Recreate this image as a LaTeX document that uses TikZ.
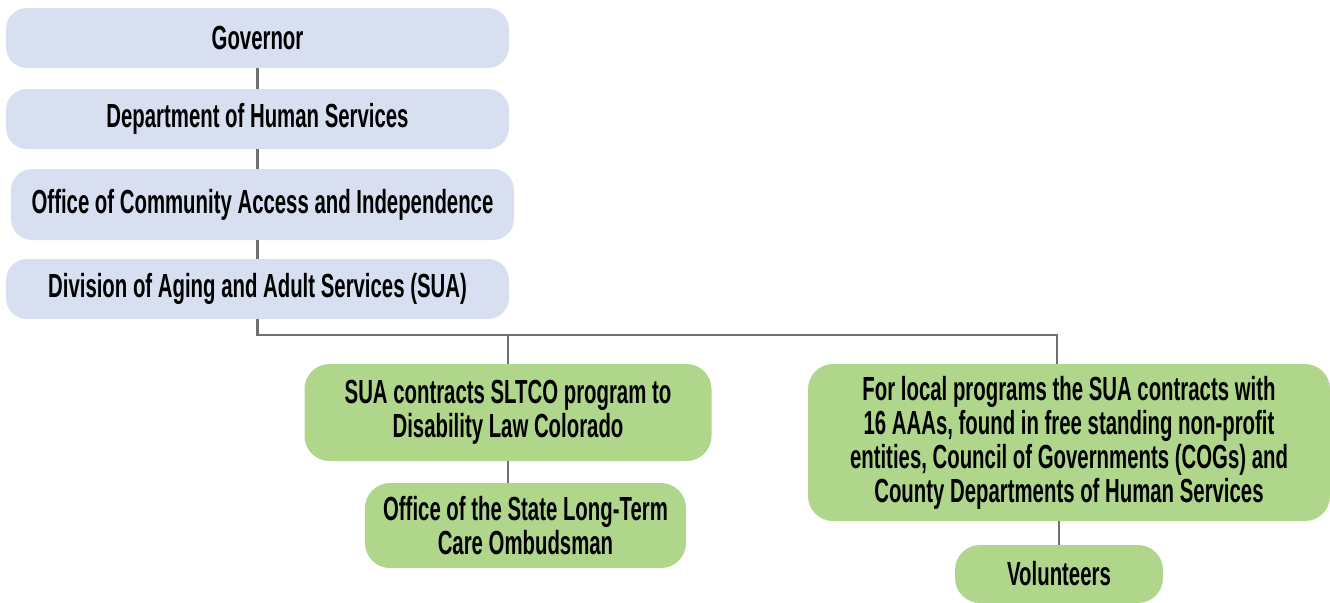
\documentclass[tikz,border=0pt]{standalone}
\usepackage{fontspec}
\newfontfamily\orgfont{Liberation Sans}[FakeStretch=0.61]
\usepackage{tikz}
\usetikzlibrary{positioning}
\definecolor{govblue}{HTML}{D7DFF1}
\definecolor{localgreen}{HTML}{AFD68B}
\definecolor{linegray}{HTML}{6E6F72}
\tikzset{
  orgbox/.style={rounded corners=0.42cm, inner sep=0pt, align=center,
    font=\orgfont\bfseries\fontsize{19}{19.4}\selectfont},
  bluebox/.style={orgbox, fill=govblue, minimum width=10.06cm, minimum height=1.2cm},
  greenbox/.style={orgbox, fill=localgreen, rounded corners=0.5cm},
  conn/.style={draw=linegray, line width=1.5pt}
}

\begin{document}
\begin{tikzpicture}
\useasboundingbox (0,0) rectangle (26.6,-12.06);

\draw (5.15,-0.76)  node (1) [bluebox] {Governor};
\draw (5.15,-2.38)  node (2) [bluebox] {Department of Human Services};
\draw [conn] (1) -- (2);

\draw (5.25,-4.09)  node (3) [bluebox, minimum height=1.42cm] {Office of Community Access and Independence};
\draw [conn] (2) -- (2 |- 3.north);

\draw (5.15,-5.78)  node (4) [bluebox] {Division of Aging and Adult Services (SUA)};
\draw [conn] (3.south -| 2) -- (4);

\draw (10.16,-8.25) node (51) [greenbox, minimum width=8.14cm, minimum height=1.94cm]
  {SUA contracts SLTCO program to\\Disability Law Colorado};
\draw (21.38,-8.85) node (52) [greenbox, minimum width=10.44cm, minimum height=3.14cm]
  {For local programs the SUA contracts with\\16 AAAs, found in free standing non-profit\\entities, Council of Governments (COGs) and\\County Departments of Human Services};
\coordinate (bus) at (21.14,-6.70);
\draw [conn] (4.south) |- (bus) -- (bus |- 52.north);
\draw [conn] (51.north) -- (51.north |- bus);

\draw (10.51,-10.51) node (61) [greenbox, minimum width=6.42cm, minimum height=1.7cm]
  {Office of the State Long-Term\\Care Ombudsman};
\draw [conn] (51.south) -- (51.south |- 61.north);

\draw (21.18,-11.48) node (62) [greenbox, minimum width=4.16cm, minimum height=1.16cm] {Volunteers};
\draw [conn] (62.north) -- (62.north |- 52.south);
\end{tikzpicture}
\end{document}
